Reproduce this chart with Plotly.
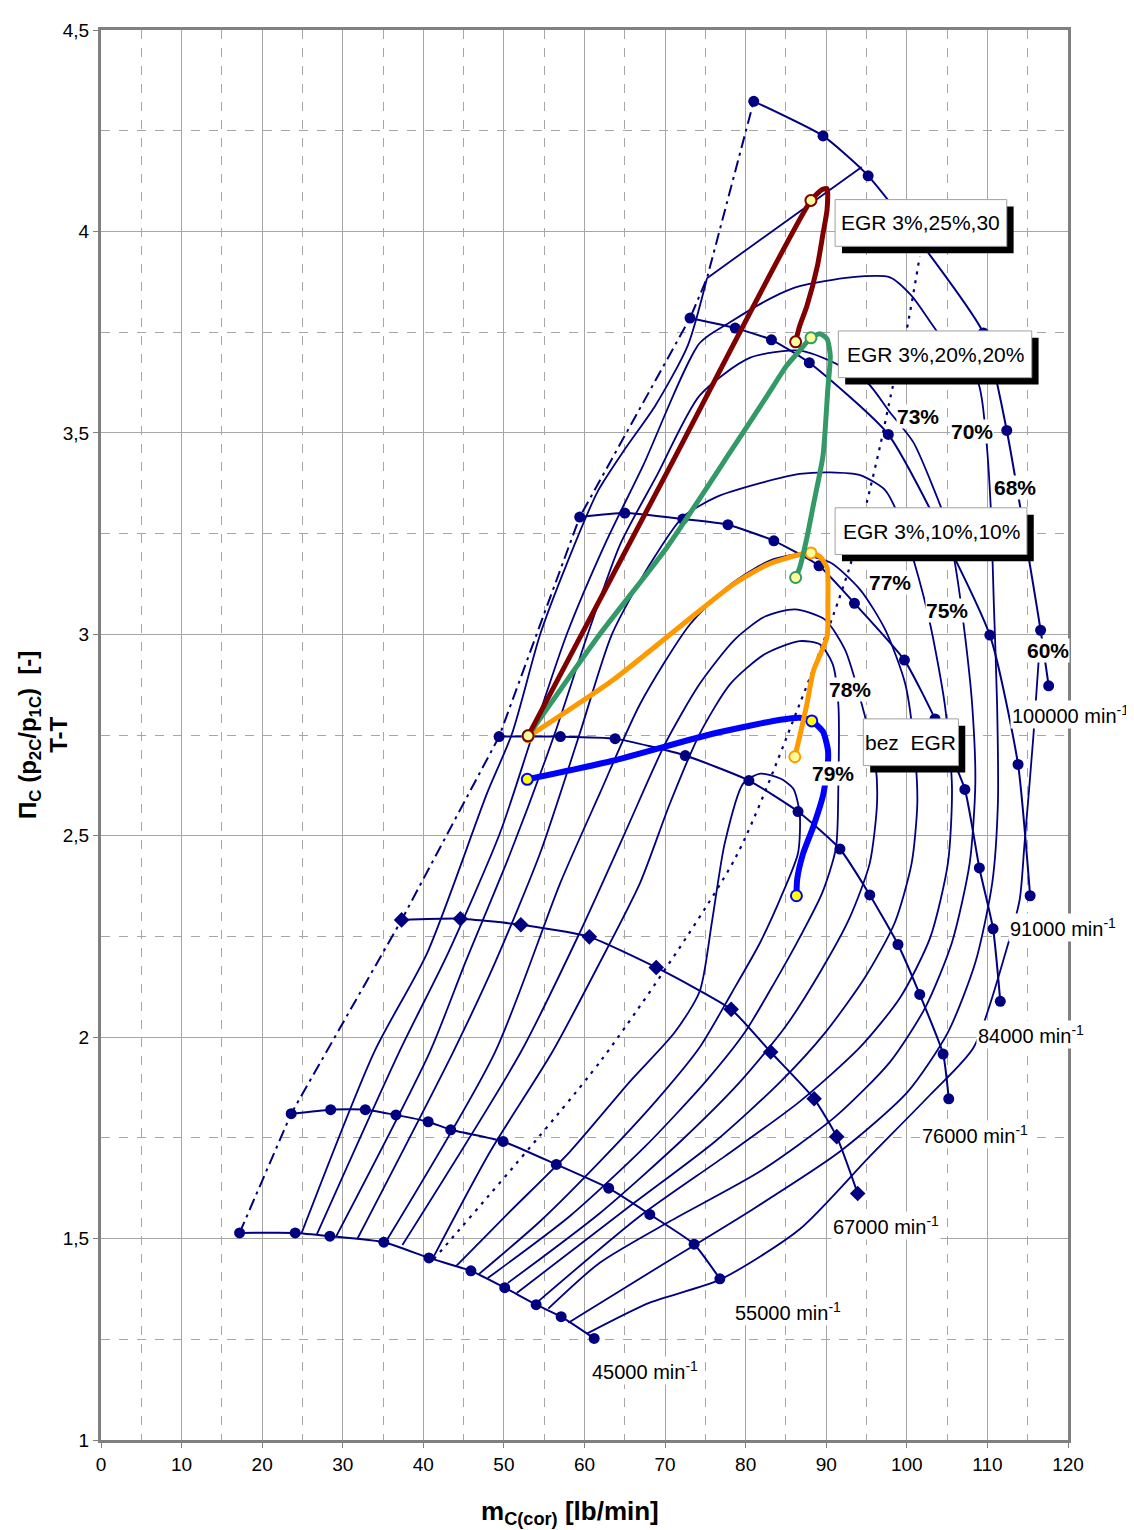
import plotly.graph_objects as go

NAVY = '#000080'
FONT = 'Liberation Sans, Arial, sans-serif'

# ---- speed lines (measured points) ----
n45_x = [17.2, 24.1, 28.4, 35.1, 40.7, 45.9, 50.1, 54.0, 57.1, 61.2]
n45_y = [1.514, 1.514, 1.506, 1.491, 1.452, 1.420, 1.378, 1.336, 1.306, 1.252]
n55_x = [23.6, 28.5, 32.8, 36.6, 40.6, 43.4, 49.9, 56.5, 63.0, 68.1, 73.6, 76.8]
n55_y = [1.810, 1.820, 1.820, 1.807, 1.790, 1.770, 1.741, 1.684, 1.625, 1.560, 1.486, 1.400]
n67_x = [37.3, 44.6, 52.1, 60.6, 68.9, 78.2, 83.1, 88.5, 91.3, 93.9]
n67_y = [2.291, 2.294, 2.279, 2.249, 2.173, 2.069, 1.963, 1.847, 1.753, 1.612]
n76_x = [49.4, 57.0, 63.8, 72.5, 80.4, 86.5, 91.7, 95.4, 98.9, 101.6, 104.5, 105.2]
n76_y = [2.746, 2.746, 2.741, 2.699, 2.637, 2.560, 2.467, 2.353, 2.230, 2.106, 1.958, 1.847]
n84_x = [59.4, 65.0, 72.2, 77.8, 83.5, 89.1, 93.5, 99.7, 103.5, 107.2, 109.0, 110.7, 111.6]
n84_y = [3.291, 3.301, 3.286, 3.272, 3.232, 3.170, 3.077, 2.936, 2.790, 2.615, 2.420, 2.269, 2.089]
n91_x = [73.1, 78.7, 83.2, 87.9, 97.7, 110.3, 113.8, 115.3]
n91_y = [3.785, 3.760, 3.731, 3.674, 3.496, 2.998, 2.677, 2.351]
n100_x = [81.0, 89.6, 95.2, 109.5, 112.4, 116.6, 117.6]
n100_y = [4.323, 4.237, 4.138, 3.748, 3.506, 3.010, 2.872]

# ---- surge line (dash-dot) and dotted line ----
surge_x = [17.2, 23.6, 37.3, 49.4, 59.4, 73.1, 75.2, 81.0]
surge_y = [1.514, 1.810, 2.291, 2.746, 3.291, 3.785, 3.884, 4.323]
dotted_x = [41.3, 62.2, 78.7, 86.7, 90.9, 93.0, 95.1, 96.7, 98.2, 100.0, 101.6]
dotted_y = [1.449, 1.946, 2.444, 2.827, 3.049, 3.173, 3.333, 3.469, 3.610, 3.758, 3.938]

# ---- efficiency contours ----
eff60a_x = [24.9, 33.9, 40.5, 47.9, 51.0, 54.5, 57.8, 61.6, 65.0, 68.8, 72.8, 75.2]
eff60a_y = [1.514, 1.963, 2.210, 2.605, 2.753, 3.000, 3.175, 3.353, 3.459, 3.568, 3.716, 3.884]
eff60top_x = [75.2, 94.4]
eff60top_y = [3.884, 4.160]
eff60b_x = [60.3, 68.1, 76.8, 86.7, 95.4, 102.9, 108.3, 112.4, 114.0, 114.6, 115.7, 116.5]
eff60b_y = [1.264, 1.341, 1.398, 1.523, 1.704, 1.857, 1.975, 2.220, 2.341, 2.479, 2.746, 2.975]
eff70_x = [26.8, 37.0, 43.1, 49.5, 53.6, 57.8, 62.5, 67.3, 74.3, 78.1, 83.4, 86.7, 93.0, 97.9, 100.6,
           103.7, 108.8, 109.8, 110.4, 110.8, 111.2, 111.3, 110.6, 108.5, 105.1, 100.1, 91.7, 80.5, 69.4, 58.0]
eff70_y = [1.511, 1.963, 2.210, 2.506, 2.753, 3.000, 3.222, 3.420, 3.723, 3.775, 3.837, 3.864, 3.886, 3.886, 3.840,
           3.753, 3.627, 3.494, 3.321, 3.074, 2.827, 2.580, 2.383, 2.185, 2.012, 1.864, 1.716, 1.568, 1.432, 1.291]
eff73_x = [29.2, 40.8, 45.2, 50.8, 56.3, 60.4, 64.4, 69.0, 74.3, 80.5, 86.7, 91.7, 95.1, 97.9, 100.8,
           103.3, 105.0, 106.0, 107.2, 108.1, 108.5, 107.8, 105.6, 102.3, 97.9, 91.1, 81.8, 70.6, 61.9, 55.5]
eff73_y = [1.506, 1.963, 2.185, 2.457, 2.753, 3.000, 3.222, 3.395, 3.593, 3.686, 3.704, 3.667, 3.625, 3.551, 3.477,
           3.363, 3.272, 3.173, 3.000, 2.827, 2.630, 2.432, 2.235, 2.074, 1.938, 1.802, 1.667, 1.543, 1.440, 1.326]
eff75_x = [31.8, 43.7, 48.9, 54.5, 59.4, 63.4, 68.1, 72.2, 76.4, 81.8, 86.7, 90.5, 94.2, 97.3, 99.2,
           101.0, 102.9, 104.7, 105.6, 105.1, 102.9, 99.2, 94.2, 86.7, 77.4, 66.9, 53.9]
eff75_y = [1.499, 1.963, 2.185, 2.457, 2.753, 3.000, 3.173, 3.291, 3.341, 3.375, 3.398, 3.402, 3.395, 3.358, 3.284,
           3.173, 3.025, 2.827, 2.622, 2.432, 2.247, 2.099, 1.975, 1.840, 1.704, 1.556, 1.338]
eff77_x = [35.4, 48.9, 57.0, 61.9, 66.9, 73.1, 78.1, 83.0, 86.7, 90.5, 94.2, 97.3, 99.8, 101.0, 101.3,
           100.6, 98.5, 94.8, 89.9, 84.3, 76.2, 65.6, 51.6]
eff77_y = [1.494, 1.963, 2.383, 2.605, 2.827, 3.025, 3.123, 3.183, 3.198, 3.178, 3.111, 3.012, 2.877, 2.704, 2.580,
           2.432, 2.284, 2.148, 2.012, 1.889, 1.741, 1.580, 1.365]
eff775_x = [37.4, 52.1, 59.4, 65.0, 70.0, 74.3, 78.7, 82.4, 86.1, 89.8, 92.3, 94.4, 96.1, 96.3, 95.4,
            92.9, 89.2, 84.9, 79.3, 71.9, 61.9, 50.5]
eff775_y = [1.484, 1.963, 2.259, 2.506, 2.728, 2.877, 2.988, 3.044, 3.062, 3.037, 2.963, 2.827, 2.679, 2.580, 2.432,
            2.296, 2.160, 2.025, 1.889, 1.741, 1.563, 1.390]
eff78_x = [41.2, 48.3, 56.0, 61.9, 66.9, 70.6, 74.3, 78.1, 82.4, 86.7, 89.2, 90.8, 91.5, 91.5, 91.2,
           89.5, 86.7, 83.6, 79.9, 75.0, 67.5, 58.2, 48.0]
eff78_y = [1.452, 1.716, 1.963, 2.185, 2.383, 2.580, 2.753, 2.877, 2.951, 2.983, 2.975, 2.926, 2.827, 2.622, 2.469,
           2.358, 2.247, 2.136, 2.012, 1.889, 1.728, 1.556, 1.402]
eff79_x = [44.1, 50.8, 58.2, 65.6, 71.2, 74.3, 75.8, 77.4, 79.7, 81.8, 84.3, 85.9, 86.7, 86.5, 84.6,
           81.8, 78.3, 74.3, 68.8, 61.9, 54.5, 46.9]
eff79_y = [1.432, 1.568, 1.716, 1.889, 2.012, 2.114, 2.284, 2.481, 2.630, 2.654, 2.642, 2.617, 2.556, 2.457, 2.358,
           2.235, 2.111, 1.975, 1.840, 1.691, 1.543, 1.412]

# ---- operating lines ----
bez_x = [52.9, 63.5, 75.9, 84.3, 86.7, 88.2, 89.6, 90.2, 90.2, 89.6, 88.4, 87.1, 86.4, 86.3]
bez_y = [2.640, 2.686, 2.753, 2.788, 2.793, 2.785, 2.758, 2.714, 2.679, 2.600, 2.523, 2.454, 2.393, 2.351]
bez_mx = [52.9, 88.2, 86.3]
bez_my = [2.640, 2.785, 2.351]
egr10_x = [53.0, 63.5, 72.2, 78.4, 82.7, 86.7, 88.1, 89.2, 90.1, 90.2, 90.1, 88.4, 87.6, 86.7, 86.1]
egr10_y = [2.746, 2.886, 3.025, 3.123, 3.173, 3.198, 3.202, 3.193, 3.165, 3.074, 2.993, 2.909, 2.827, 2.746, 2.696]
egr10_mx = [53.0, 88.1, 86.1]
egr10_my = [2.746, 3.202, 2.696]
egr20_x = [53.0, 61.9, 70.2, 78.4, 82.7, 85.1, 86.7, 88.1, 89.2, 90.1, 90.5, 90.2, 89.6, 88.4, 87.6, 86.7, 86.2]
egr20_y = [2.748, 3.000, 3.215, 3.462, 3.593, 3.667, 3.704, 3.736, 3.746, 3.733, 3.691, 3.610, 3.444, 3.321,
           3.240, 3.165, 3.141]
egr20_mx = [53.0, 88.1, 86.2]
egr20_my = [2.748, 3.736, 3.141]
egr25_x = [53.0, 70.5, 88.1, 89.5, 90.1, 90.1, 89.6, 88.9, 87.6, 86.7, 86.2]
egr25_y = [2.748, 3.412, 4.077, 4.104, 4.106, 4.054, 3.995, 3.914, 3.815, 3.765, 3.726]
egr25_mx = [53.0, 88.1, 86.2]
egr25_my = [2.748, 4.077, 3.726]

speed_labels = ['45000', '55000', '67000', '76000', '84000', '91000', '100000']
speed_lab_x = [60.7, 78.4, 90.6, 101.6, 108.6, 112.6, 112.8]
speed_lab_y = [1.173, 1.319, 1.533, 1.758, 2.007, 2.272, 2.800]
eff_labels = ['73%', '70%', '68%', '60%', '77%', '75%', '78%', '79%']
eff_lab_x = [101.4, 108.1, 113.4, 117.5, 97.9, 105.0, 92.95, 90.8]
eff_lab_y = [3.541, 3.504, 3.365, 2.960, 3.128, 3.059, 2.864, 2.654]

fig = go.Figure()


def add_line(x, y, width=1.8, dash='solid', shape='spline'):
    fig.add_trace(go.Scatter(
        x=x, y=y, mode='lines',
        line=dict(color=NAVY, width=width, dash=dash, shape=shape, smoothing=0.7),
        hoverinfo='skip', showlegend=False,
    ))


for cx, cy in [(eff60a_x, eff60a_y), (eff60b_x, eff60b_y), (eff70_x, eff70_y), (eff73_x, eff73_y),
               (eff75_x, eff75_y), (eff77_x, eff77_y), (eff775_x, eff775_y), (eff78_x, eff78_y),
               (eff79_x, eff79_y)]:
    add_line(cx, cy)
add_line(eff60top_x, eff60top_y, shape='linear')
add_line(surge_x, surge_y, width=2, dash='12px,5px,3px,5px', shape='linear')
add_line(dotted_x, dotted_y, width=2.2, dash='3px,6px')

for sx, sy, sym in [(n45_x, n45_y, 'circle'), (n55_x, n55_y, 'circle'), (n67_x, n67_y, 'diamond'),
                    (n76_x, n76_y, 'circle'), (n84_x, n84_y, 'circle'), (n91_x, n91_y, 'circle'),
                    (n100_x, n100_y, 'circle')]:
    fig.add_trace(go.Scatter(
        x=sx, y=sy, mode='lines+markers',
        line=dict(color=NAVY, width=2, shape='spline', smoothing=0.5),
        marker=dict(symbol=sym, size=12 if sym == 'diamond' else 11, color=NAVY),
        hoverinfo='skip', showlegend=False,
    ))

for lx, ly, mx, my, col, fill, w in [
    (bez_x, bez_y, bez_mx, bez_my, '#0000FF', '#FFFF00', 6),
    (egr10_x, egr10_y, egr10_mx, egr10_my, '#FF9900', '#FFFF99', 5),
    (egr20_x, egr20_y, egr20_mx, egr20_my, '#339966', '#FFFF99', 5),
    (egr25_x, egr25_y, egr25_mx, egr25_my, '#800000', '#FFFF99', 5),
]:
    fig.add_trace(go.Scatter(
        x=lx, y=ly, mode='lines',
        line=dict(color=col, width=w, shape='spline', smoothing=0.6),
        hoverinfo='skip', showlegend=False,
    ))
    fig.add_trace(go.Scatter(
        x=mx, y=my, mode='markers',
        marker=dict(size=11, color=fill, line=dict(color=col, width=2)),
        hoverinfo='skip', showlegend=False,
    ))

# EGR boxes with shadow
boxes = [
    ('EGR 3%,25%,30', 91.1, 112.4, 3.963, 4.079),
    ('EGR 3%,20%,20%', 91.5, 115.5, 3.637, 3.753),
    ('EGR 3%,10%,10%', 91.1, 114.9, 3.198, 3.314),
    ('bez  EGR', 94.6, 106.4, 2.674, 2.790),
]
for text, x0, x1, y0, y1 in boxes:
    fig.add_shape(type='rect', x0=x0 + 0.85, x1=x1 + 0.85, y0=y0 - 0.017, y1=y1 - 0.017,
                  fillcolor='black', line=dict(width=0), layer='above')
    fig.add_shape(type='rect', x0=x0, x1=x1, y0=y0, y1=y1,
                  fillcolor='white', line=dict(color='#A0A0A0', width=1), layer='above')
    fig.add_annotation(x=(x0 + x1) / 2, y=(y0 + y1) / 2, text=text, showarrow=False,
                       font=dict(family=FONT, size=21, color='black'))

for lab, lx, ly in zip(speed_labels, speed_lab_x, speed_lab_y):
    fig.add_annotation(x=lx, y=ly, text=f'{lab} min<sup>-1</sup>', showarrow=False,
                       xanchor='left', yanchor='middle', bgcolor='white', borderpad=1,
                       font=dict(family=FONT, size=20, color='black'))

for lab, lx, ly in zip(eff_labels, eff_lab_x, eff_lab_y):
    fig.add_annotation(x=lx, y=ly, text=f'<b>{lab}</b>', showarrow=False,
                       bgcolor='white', borderpad=0,
                       font=dict(family=FONT, size=21, color='black'))

fig.add_annotation(xref='paper', yref='paper', x=-0.06, y=0.50, xanchor='center', yanchor='middle',
                   textangle=-90, showarrow=False,
                   text='<b>\u03a0<sub>C</sub> (p<sub>2C</sub>/p<sub>1C</sub>)&nbsp;&nbsp;[-]<br>T-T</b>',
                   font=dict(family=FONT, size=24, color='black'))
fig.add_annotation(xref='paper', yref='paper', x=0.485, y=-0.0515, xanchor='center', yanchor='middle',
                   showarrow=False, text='<b>m<sub>C(cor)</sub> [lb/min]</b>',
                   font=dict(family=FONT, size=26, color='black'))

axis_common = dict(
    showline=True, mirror=True, linecolor='#808080', linewidth=3,
    showgrid=True, gridcolor='#A6A6A6', gridwidth=1,
    ticks='outside', ticklen=5, tickcolor='#808080',
    tickfont=dict(family=FONT, size=19, color='black'),
    zeroline=False,
)
fig.update_xaxes(range=[0, 120], dtick=10, tick0=0,
                 minor=dict(dtick=5, showgrid=True, gridcolor='#A6A6A6', griddash='dash', gridwidth=1),
                 **axis_common)
fig.update_yaxes(range=[1, 4.5], dtick=0.5, tick0=1,
                 minor=dict(dtick=0.25, showgrid=True, gridcolor='#A6A6A6', griddash='dash', gridwidth=1),
                 **axis_common)
# page body adds an 8px margin, so the figure is 8px smaller on each side
fig.update_layout(
    width=1126, height=1522,
    margin=dict(l=93, r=66, t=14, b=90),
    plot_bgcolor='white', paper_bgcolor='white',
    separators=', ',
    showlegend=False,
)
fig.write_html('out.html')
